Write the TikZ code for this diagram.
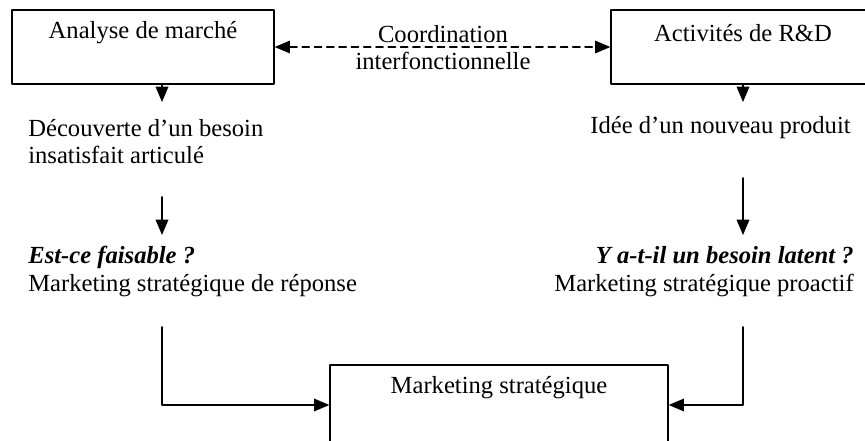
\documentclass[tikz,border=0pt]{standalone}
\usepackage{fontspec}
\setmainfont{Liberation Serif}
\usepackage{tikz}
\usetikzlibrary{arrows}

\begin{document}
\begin{tikzpicture}[line cap=round,line join=round,>=triangle 45,x=1.0cm,y=1.0cm,
    font=\fontsize{14}{15.5}\selectfont,
    boite/.style={draw,line width=0.8pt,inner sep=0pt},
    texte/.style={inner sep=0pt},
    fleche/.style={->,line width=1pt}]
      \useasboundingbox (0.,0.) rectangle (17.3,8.8);
      \clip (0.,0.) rectangle (17.3,8.8);
      % boites
      \node [boite,minimum width=5.24cm,minimum height=1.48cm] (marche) at (2.86,7.86) {};
      \node [boite,minimum width=5.28cm,minimum height=1.48cm] (rd) at (14.86,7.86) {};
      \node [boite,minimum width=6.76cm,minimum height=1.6cm] (strat) at (9.98,0.7) {};
      \node [texte] (tmarche) at (2.86,8.14) {Analyse de marché};
      \node [texte] (trd) at (14.86,8.14) {Activités de R\&D};
      \node [texte] (tstrat) at (9.98,1.04) {Marketing stratégique};
      % coordination
      \node [texte,align=center] (coord) at (8.86,7.85) {Coordination\\interfonctionnelle};
      \draw [<->,line width=1pt,dash pattern=on 4pt off 3pt] (marche.east) -- (rd.west);
      % textes
      \node [texte,anchor=west,align=left] (besoin) at (0.56,5.97) {Découverte d'un besoin\\insatisfait articulé};
      \node [texte,anchor=east,align=right] (idee) at (17.02,6.24) {Idée d'un nouveau produit};
      \node [texte,anchor=west,align=left] (reponse) at (0.56,3.37) {\textbf{\textit{Est-ce faisable ?}}\\Marketing stratégique de réponse};
      \node [texte,anchor=east,align=right] (proactif) at (17.08,3.37) {\textbf{\textit{Y a-t-il un besoin latent ?}}\\Marketing stratégique proactif};
      % fleches
      \coordinate (g1) at (3.24,6.76);
      \coordinate (d1) at (14.86,6.76);
      \coordinate (g2) at (3.24,4.86);
      \coordinate (g3) at (3.24,4.1);
      \coordinate (d2) at (14.86,5.24);
      \coordinate (d3) at (14.86,4.1);
      \coordinate (g4) at (3.24,2.26);
      \coordinate (d4) at (14.86,2.26);
      \draw [fleche] (marche.south -| g1) -- (g1);
      \draw [fleche] (rd.south) -- (d1);
      \draw [fleche] (g2) -- (g3);
      \draw [fleche] (d2) -- (d3);
      \draw [fleche] (g4) |- (strat.west);
      \draw [fleche] (d4) |- (strat.east);
\end{tikzpicture}
\end{document}
